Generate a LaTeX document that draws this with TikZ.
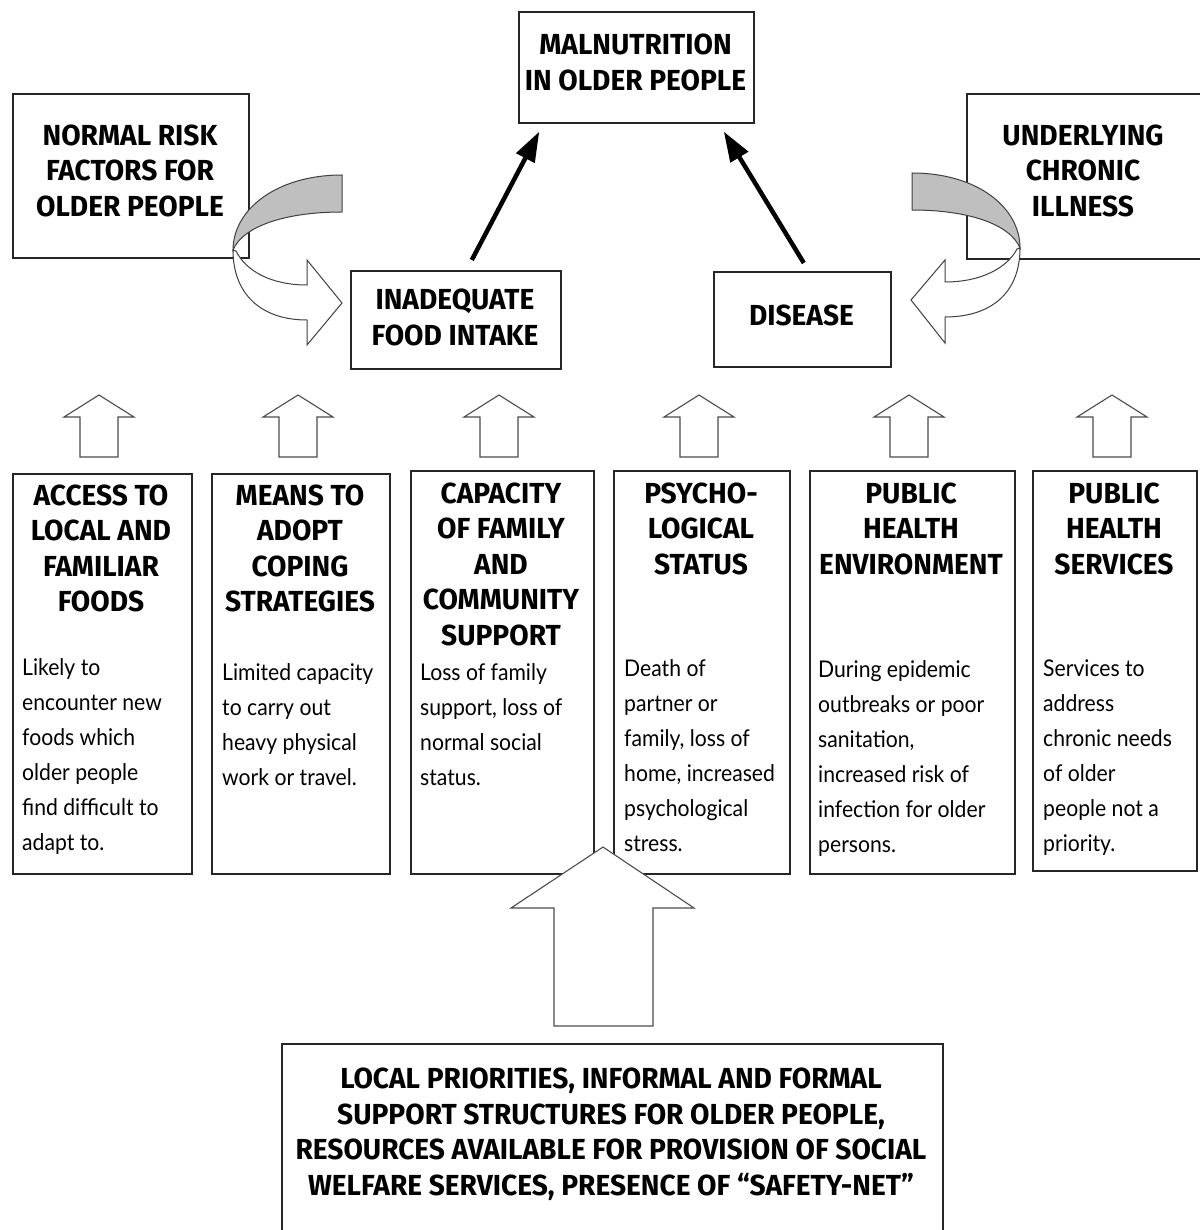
\documentclass[tikz,border=0pt]{standalone}
\usepackage{fontspec}
\newfontfamily\hdfont[FakeStretch=0.97]{Fira Sans}
\newfontfamily\bdfont[FakeStretch=0.92]{Lato}
\usetikzlibrary{arrows.meta,calc}
\tikzset{
  box/.style={draw=black!85, line width=1.6pt, fill=white, inner sep=0pt, anchor=north west},
  hd/.style={font=\hdfont\bfseries\fontsize{29}{35.5}\selectfont, align=center, inner sep=0pt},
  bd/.style={font=\bdfont\fontsize{23}{35}\selectfont, align=left, inner sep=0pt, anchor=north west},
  blk/.style={draw=black!70, line width=1.1pt, fill=white, line join=miter},
  twist/.style={draw=black!75, line width=1pt, fill=black!25},
  twistw/.style={draw=black!75, line width=1pt, fill=white},
  bigarrow/.style={line width=4.5pt, -{Triangle[length=30pt,width=20pt]}},
}
\newcommand\upblk[1]{%
  \path[blk] (#1,395) -- (#1+35,417) -- (#1+19,417) -- (#1+19,457)
    -- (#1-19,457) -- (#1-19,417) -- (#1-35,417) -- cycle;}
\begin{document}
\begin{tikzpicture}[x=1pt,y=-1pt]
\useasboundingbox[fill=white] (0,0) rectangle (1199,1230);

% top boxes
\node[box, minimum width=235pt, minimum height=111pt] (maln) at (518,11) {};
\node[hd] (malnt) at (635.5,62.5) {MALNUTRITION\\IN OLDER PEOPLE};

\node[box, minimum width=236pt, minimum height=164pt] (nrf) at (12,93) {};
\node[hd] (nrft) at (130,170.5) {NORMAL RISK\\FACTORS FOR\\OLDER PEOPLE};

\node[box, minimum width=250pt, minimum height=165pt] (und) at (966,93) {};
\node[hd] (undt) at (1083,170.5) {UNDERLYING\\CHRONIC\\ILLNESS};

\node[box, minimum width=210pt, minimum height=98pt] (inad) at (350,270) {};
\node[hd] (inadt) at (455,317.5) {INADEQUATE\\FOOD INTAKE};

\node[box, minimum width=177pt, minimum height=95pt] (dis) at (713,271) {};
\node[hd] (dist) at (801.5,315) {DISEASE};

% curved arrows (left)
\path[twist] (342,175) .. controls (276,175) and (233,210) .. (233,250)
  .. controls (243,226) and (286,212) .. (342,212) -- cycle;
\path[twistw] (233,250) .. controls (233,295) and (262,320) .. (307,320)
  -- (307,345) -- (342,303) -- (307,260) -- (307,285)
  .. controls (271,285) and (246,271) .. (236,251) -- cycle;
% curved arrows (right)
\path[twist] (912,173) .. controls (978,173) and (1020,208) .. (1020,248)
  .. controls (1010,224) and (968,210) .. (912,210) -- cycle;
\path[twistw] (1020,248) .. controls (1020,293) and (991,317) .. (945,317)
  -- (945,343) -- (911,300) -- (945,260) -- (945,282)
  .. controls (981,282) and (1007,268) .. (1017,249) -- cycle;

% black arrows
\draw[bigarrow] ($(inad.north)+(16,-10)$) -- ($(maln.south)+(-97,8)$);
\draw[bigarrow] ($(dis.north)+(1.5,-8)$) -- ($(maln.south)+(87.5,8)$);

% factor boxes
\node[box, minimum width=179pt, minimum height=400pt] (b1) at (12,473) {};
\node[box, minimum width=178pt, minimum height=400pt] (b2) at (211,473) {};
\node[box, minimum width=183pt, minimum height=403pt] (b3) at (410,470) {};
\node[box, minimum width=176pt, minimum height=403pt] (b4) at (613,470) {};
\node[box, minimum width=205pt, minimum height=403pt] (b5) at (809,470) {};
\node[box, minimum width=164pt, minimum height=400pt] (b6) at (1032,470) {};

\node[hd] (b1h) at (101,548.5) {ACCESS TO\\LOCAL AND\\FAMILIAR\\FOODS};
\node[hd] (b2h) at (300,548.5) {MEANS TO\\ADOPT\\COPING\\STRATEGIES};
\node[hd] (b3h) at (501,564) {CAPACITY\\OF FAMILY\\AND\\COMMUNITY\\SUPPORT};
\node[hd] (b4h) at (701,528.5) {PSYCHO-\\LOGICAL\\STATUS};
\node[hd] (b5h) at (911,528.5) {PUBLIC\\HEALTH\\ENVIRONMENT};
\node[hd] (b6h) at (1114,528.5) {PUBLIC\\HEALTH\\SERVICES};

\node[bd] (b1t) at (22,658) {Likely to\\encounter new\\foods which\\older people\\find difficult to\\adapt to.};
\node[bd] (b2t) at (222,663) {Limited capacity\\to carry out\\heavy physical\\work or travel.};
\node[bd] (b3t) at (420,663) {Loss of family\\support, loss of\\normal social\\status.};
\node[bd] (b4t) at (624,659) {Death of\\partner or\\family, loss of\\home, increased\\psychological\\stress.};
\node[bd] (b5t) at (818,660) {During epidemic\\outbreaks or poor\\sanitation,\\increased risk of\\infection for older\\persons.};
\node[bd] (b6t) at (1043,660) {Services to\\address\\chronic needs\\of older\\people not a\\priority.};

% small block arrows
\upblk{99}
\upblk{298}
\upblk{499}
\upblk{699}
\upblk{909}
\upblk{1112}

% bottom box and big arrow
\node[box, minimum width=661pt, minimum height=200pt] (bot) at (281,1043) {};
\node[hd] (bott) at (611,1134.5) {LOCAL PRIORITIES, INFORMAL AND FORMAL\\SUPPORT STRUCTURES FOR OLDER PEOPLE,\\RESOURCES AVAILABLE FOR PROVISION OF SOCIAL\\WELFARE SERVICES, PRESENCE OF “SAFETY-NET”};

\path[blk] (603,847) -- (694,908) -- (653,908) -- (653,1026) -- (554,1026)
  -- (554,908) -- (511,908) -- cycle;
\end{tikzpicture}
\end{document}
